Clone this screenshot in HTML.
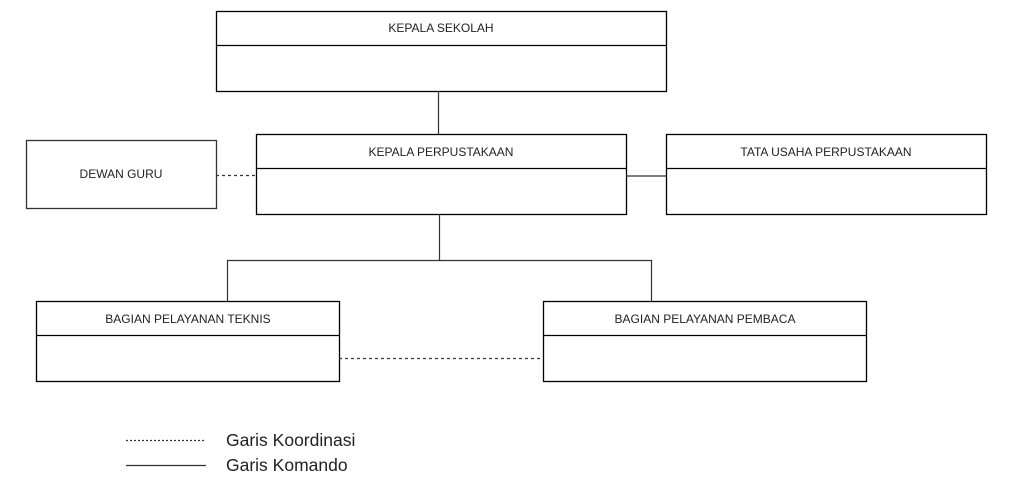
<!DOCTYPE html>
<html><head><meta charset="utf-8"><style>html,body{margin:0;padding:0;background:#fff;width:1014px;height:500px;overflow:hidden}</style></head>
<body>
<svg width="1014" height="500" xmlns="http://www.w3.org/2000/svg" font-family="Liberation Sans, Arial, sans-serif">
<g fill="none" stroke="#000" stroke-width="1.3">
<rect x="216.5" y="11.5" width="450" height="80"/><line x1="216" y1="45.5" x2="666" y2="45.5"/>
<rect x="256.5" y="134.5" width="370" height="80"/><line x1="256" y1="168.5" x2="626" y2="168.5"/>
<rect x="666.5" y="134.5" width="320" height="80"/><line x1="666" y1="168.5" x2="986" y2="168.5"/>
<rect x="36.5" y="301.5" width="303" height="80"/><line x1="36" y1="335.5" x2="339" y2="335.5"/>
<rect x="543.5" y="301.5" width="323" height="80"/><line x1="543" y1="335.5" x2="866" y2="335.5"/>
</g>
<rect x="26.5" y="140.5" width="190" height="68" fill="none" stroke="#333" stroke-width="1.3"/>
<g fill="none" stroke="#333" stroke-width="1.2">
<line x1="438.5" y1="91" x2="438.5" y2="134"/>
<line x1="626" y1="176" x2="666" y2="176"/>
<polyline points="439.5,214 439.5,260.5 227.5,260.5 227.5,301"/>
<polyline points="439.5,260.5 651.5,260.5 651.5,301"/>
<line x1="216" y1="175.5" x2="256" y2="175.5" stroke-dasharray="3,3"/>
<line x1="339" y1="358.5" x2="543" y2="358.5" stroke-dasharray="3,3"/>
<line x1="126" y1="440.5" x2="206" y2="440.5" stroke-dasharray="2,2"/>
<line x1="126" y1="465.5" x2="206" y2="465.5"/>
</g>
<g font-size="12" fill="#222" text-anchor="middle">
<text x="441" y="32">KEPALA SEKOLAH</text>
<text x="441" y="156">KEPALA PERPUSTAKAAN</text>
<text x="826" y="156">TATA USAHA PERPUSTAKAAN</text>
<text x="121" y="178">DEWAN GURU</text>
<text x="188" y="323">BAGIAN PELAYANAN TEKNIS</text>
<text x="705" y="323">BAGIAN PELAYANAN PEMBACA</text>
</g>
<g font-size="17.5" fill="#222">
<text x="226" y="446">Garis Koordinasi</text>
<text x="226" y="471">Garis Komando</text>
</g>
</svg>
</body></html>
